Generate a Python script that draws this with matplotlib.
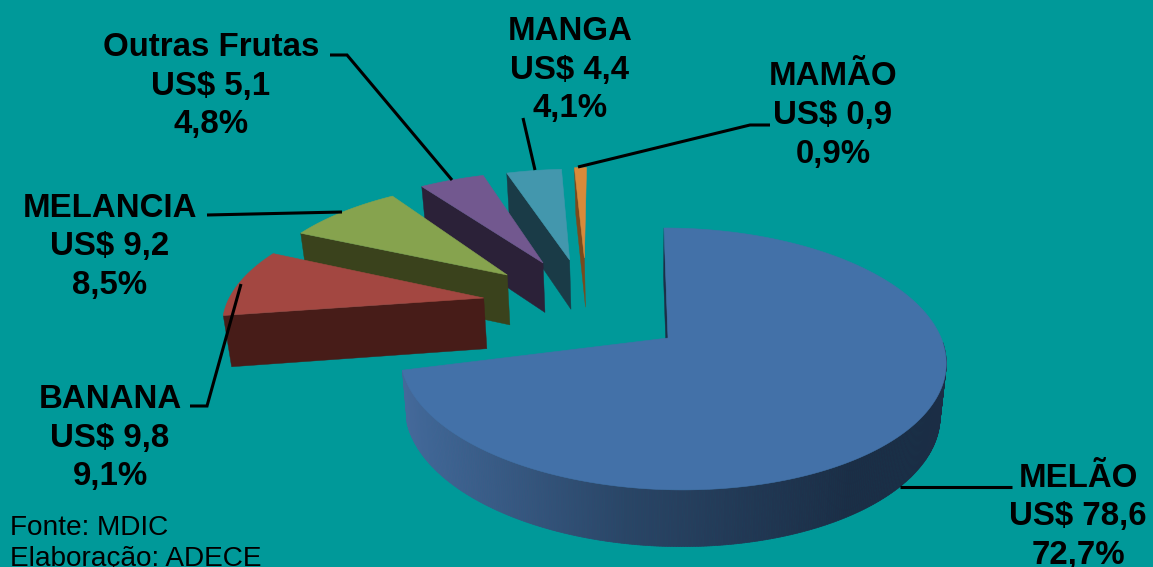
import numpy as np
import matplotlib
matplotlib.use("Agg")
import matplotlib.pyplot as plt
from matplotlib.patches import Polygon
from matplotlib.colors import to_rgb

# data
categories = ["MELÃO", "BANANA", "MELANCIA", "Outras Frutas", "MANGA", "MAMÃO"]
values_usd = ["78,6", "9,8", "9,2", "5,1", "4,4", "0,9"]
shares = [72.7, 9.1, 8.5, 4.8, 4.1, 0.9]
share_labels = ["72,7%", "9,1%", "8,5%", "4,8%", "4,1%", "0,9%"]

# style
BG = "#009999"
top_colors = ["#4371a8", "#a34741", "#86a34e", "#72588f", "#4397ad", "#d88a3a"]
wall_colors = ["#1c2e47", "#471c18", "#3a421c", "#2b2138", "#1a3b47", "#7a4a1c"]
explode_x = [-0.008, -0.71, -0.635, -0.517, -0.41, -0.35]
explode_y = [0.0, 0.33, 0.536, 0.649, 0.678, 0.698]
end_trim = [5.5, 0, 0, 0, 0, 0]     # the picture's perspective closes the big slice a little early
apex_dx = [-0.014, -0.015, -0.012, 0.008, 0.008, 0.008]  # each slice's tip relative to its circle's centre
radius_x = [0.99, 1, 1, 1, 1, 1]

# projection of the pie plane onto the picture
VX, C0, RX, CY, QY, K = 615.0, 59.0, 272.0, 338.0, 127.6, 0.16
DEPTH = 52.0
SHRINK_X, SHRINK = 640.0, 0.98
RIM_FROM = 92.0

def project(X, Y, low=False):
    s = 1.0 / (1.0 + K * Y)
    sx = VX + (C0 + RX * X) * s
    sy = CY - QY * Y * s
    if low:
        sx = SHRINK_X + (sx - SHRINK_X) * SHRINK
        sy = sy + DEPTH * np.sqrt(s)
    return sx, sy

def outline(a0, a1, ex, ey, adx, rx):
    t = np.radians(np.linspace(a0, a1, max(3, int(a1 - a0) * 2)))
    X = np.concatenate([[adx], rx * np.sin(t)]) + ex
    Y = np.concatenate([[0.0], np.cos(t)]) + ey
    return X, Y, np.degrees(t)

fig = plt.figure(figsize=(11.53, 5.67), dpi=100, facecolor=BG)
ax = fig.add_axes([0, 0, 1, 1])
ax.set_xlim(0, 1153)
ax.set_ylim(567, 0)
ax.axis("off")

shares_arr = np.array(shares)
edges = np.concatenate([[0.0], np.cumsum(shares_arr / shares_arr.sum() * 360.0)])

def draw_slice(i):
    a0, a1 = edges[i], edges[i + 1] - end_trim[i]
    ex, ey = explode_x[i], explode_y[i]
    X, Y, deg = outline(a0, a1, ex, ey, apex_dx[i], radius_x[i])
    wall = wall_colors[i]
    # radial wall on the slice's leading edge
    xs = np.array([X[0], X[1]])
    ys = np.array([Y[0], Y[1]])
    tx, ty = project(xs, ys)
    bx, by = project(xs, ys, low=True)
    ax.add_patch(Polygon(np.c_[np.r_[tx, bx[::-1]], np.r_[ty, by[::-1]]], closed=True,
                         facecolor=wall, edgecolor=wall, lw=0.3))
    # front rim, shaded from left to right along the picture
    if i == 0:
        tx, ty = project(X[1:], Y[1:])
        bx, by = project(X[1:], Y[1:], low=True)
        light = np.array(to_rgb("#44699a"))
        mid = np.array(to_rgb("#2a4566"))
        dark = np.array(to_rgb("#1b2d45"))
        for j in range(len(tx) - 1):
            if deg[j] < RIM_FROM:
                continue
            f = np.clip((tx[j] - 403.0) / 450.0, 0, 1)
            c = light + (mid - light) * f * 2 if f < 0.5 else mid + (dark - mid) * (f * 2 - 1)
            ax.add_patch(Polygon([(tx[j], ty[j]), (tx[j + 1], ty[j + 1]),
                                  (bx[j + 1], by[j + 1]), (bx[j], by[j])], closed=True,
                                 facecolor=c, edgecolor=c, lw=0.5))
    # top face
    px, py = project(X, Y)
    ax.add_patch(Polygon(np.c_[px, py], closed=True, facecolor=top_colors[i],
                         edgecolor=top_colors[i], lw=0.4))

for i in [5, 4, 3, 2, 1, 0]:
    draw_slice(i)

# leader lines
leaders = [
    ([900, 1012], [487, 487]),
    ([190, 207, 241], [406, 406, 284]),
    ([207, 342], [215, 212]),
    ([330, 347, 452], [55, 55, 180]),
    ([523, 535], [118, 170]),
    ([770, 750, 578], [125, 125, 167]),
]
for lx, ly in leaders:
    ax.plot(lx, ly, color="black", lw=2.2, solid_capstyle="butt", solid_joinstyle="miter")

# labels
label_x = [1078, 110, 110, 211, 570, 833]
label_y = [517, 438, 247, 86, 70, 115.5]
for i, name in enumerate(categories):
    ax.text(label_x[i], label_y[i], f"{name}\nUS$ {values_usd[i]}\n{share_labels[i]}",
            family="Liberation Sans", fontweight="bold", fontsize=23.8, ha="center",
            va="center", multialignment="center", linespacing=1.32, color="black")

ax.text(10, 528, "Fonte: MDIC", family="Liberation Sans", fontsize=20.2, ha="left",
        va="center", color="black")
ax.text(10, 559, "Elaboração: ADECE", family="Liberation Sans", fontsize=20.2, ha="left",
        va="center", color="black", clip_on=True)

fig.savefig("out.png", dpi=100, facecolor=BG)
